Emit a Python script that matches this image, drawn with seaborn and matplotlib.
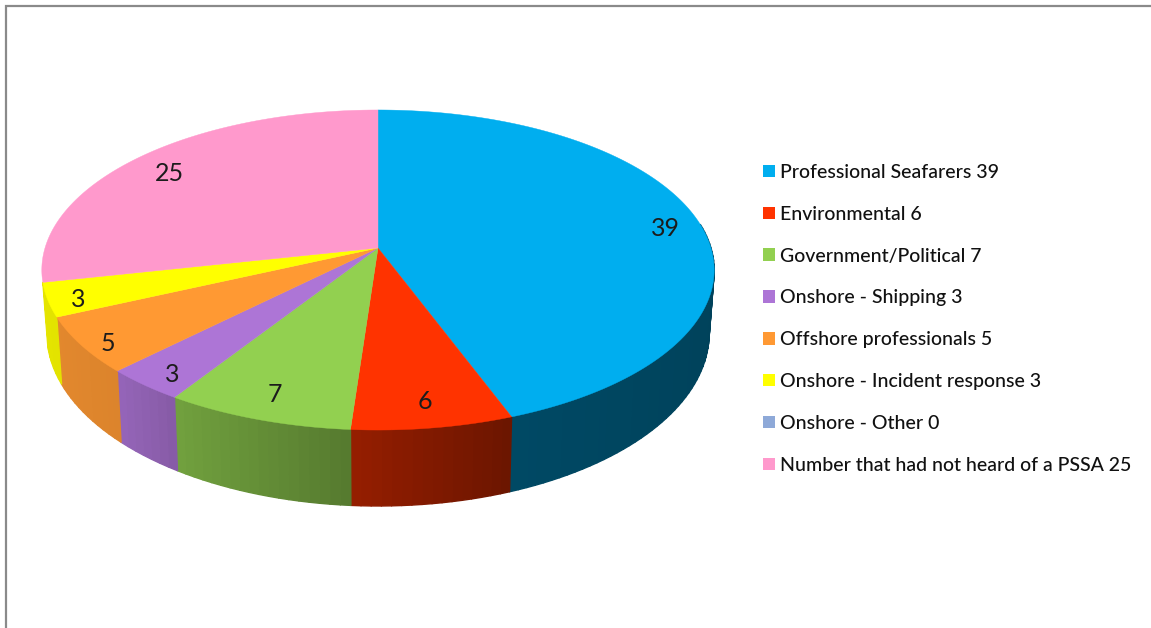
import numpy as np
import matplotlib
matplotlib.use("Agg")
import matplotlib.pyplot as plt
from matplotlib.collections import PolyCollection
from matplotlib.patches import Patch
import seaborn as sns

categories = ["Professional Seafarers", "Environmental", "Government/Political",
              "Onshore - Shipping", "Offshore professionals",
              "Onshore - Incident response", "Onshore - Other",
              "Number that had not heard of a PSSA"]
values = [39, 6, 7, 3, 5, 3, 0, 25]
colors = ["#00aeef", "#ff3300", "#92d050", "#ad75d6", "#ff9933", "#ffff00", "#8ea9d8", "#ff99cc"]
label_radius = [0.895, 0.87, 0.87, 0.89, 0.915, 0.91, 0.87, 0.865]
label_drop = [5, 0, 0, 6, 7, 5, 0, 5]

sns.set_theme(style="white")
plt.rcParams["font.family"] = ["Lato", "DejaVu Sans"]
palette = sns.color_palette(colors)

W, H = 1151, 628
fig = plt.figure(figsize=(W / 100, H / 100), dpi=100, facecolor="white")
ax = fig.add_axes([0, 0, 1, 1])
ax.set_xlim(0, W)
ax.set_ylim(H, 0)
ax.axis("off")

# perspective projection of the unit disc onto the page
CX, CY, A, B, K = 378, 248, 333, 157, 0.1375
def top(t, r=1.0):
    u, v = r * np.sin(t), r * np.cos(t)
    w = 1 + K * v
    return CX + A * u / w, CY - B * v / w
def bottom(x, y):
    return CX + 0.985 * (x - CX), CY + 61.4 + 1.08 * (y - CY)
def shade(u):
    return np.interp(u, [-1, -.7, -.55, -.08, .35, 1], [.9, .86, .78, .59, .42, .38])

edges = np.cumsum([0] + values) / sum(values) * 2 * np.pi
for (c, a0, a1) in zip(palette, edges[:-1], edges[1:]):
    if a1 <= a0 or np.cos((a0 + a1) / 2) > 0.3:
        continue
    ts = np.linspace(a0, a1, max(4, int((a1 - a0) * 40)))
    xt, yt = top(ts)
    xb, yb = bottom(xt, yt)
    quads, fcs = [], []
    for i in range(len(ts) - 1):
        tm = (ts[i] + ts[i + 1]) / 2
        if np.cos(tm) > 0.15:
            continue
        quads.append([(xt[i], yt[i]), (xt[i + 1], yt[i + 1]), (xb[i + 1], yb[i + 1]), (xb[i], yb[i])])
        fcs.append(tuple(np.array(c) * shade(np.sin(tm))))
    ax.add_collection(PolyCollection(quads, facecolors=fcs, edgecolors=fcs, linewidths=1.0, zorder=2))

for (c, a0, a1) in zip(palette, edges[:-1], edges[1:]):
    if a1 <= a0:
        continue
    ts = np.linspace(a0, a1, max(4, int((a1 - a0) * 90)))
    xt, yt = top(ts)
    ax.fill(np.r_[CX, xt], np.r_[CY, yt], color=c, lw=0.3, zorder=3)

for v, a0, a1, r, dy in zip(values, edges[:-1], edges[1:], label_radius, label_drop):
    if v == 0:
        continue
    x, y = top((a0 + a1) / 2, r)
    ax.text(x, y + dy, str(v), ha="center", va="center", fontsize=18, color="#1c1c1c", zorder=4)

# window frame
ax.plot([6, 6, W], [H, 5.5, 5.5], color="#8a8a8a", lw=1.6, solid_joinstyle="miter", zorder=5)

fs = 14.05
handles = [Patch(facecolor=c, edgecolor="none") for c in palette]
labels = [f"{n} {v}" for n, v in zip(categories, values)]
px = fs * 100 / 72
ax.legend(handles, labels, loc="upper left", bbox_to_anchor=(763 / W, 1 - 164 / H),
          bbox_transform=fig.transFigure, frameon=False,
          prop={"size": fs, "family": "Lato", "weight": "medium"},
          handlelength=12 / px, handleheight=12 / px, handletextpad=5 / px,
          labelspacing=(41.4 - px * 0.85) / px, borderpad=0, borderaxespad=0,
          labelcolor="#111111")

fig.savefig("out.png", dpi=100)
